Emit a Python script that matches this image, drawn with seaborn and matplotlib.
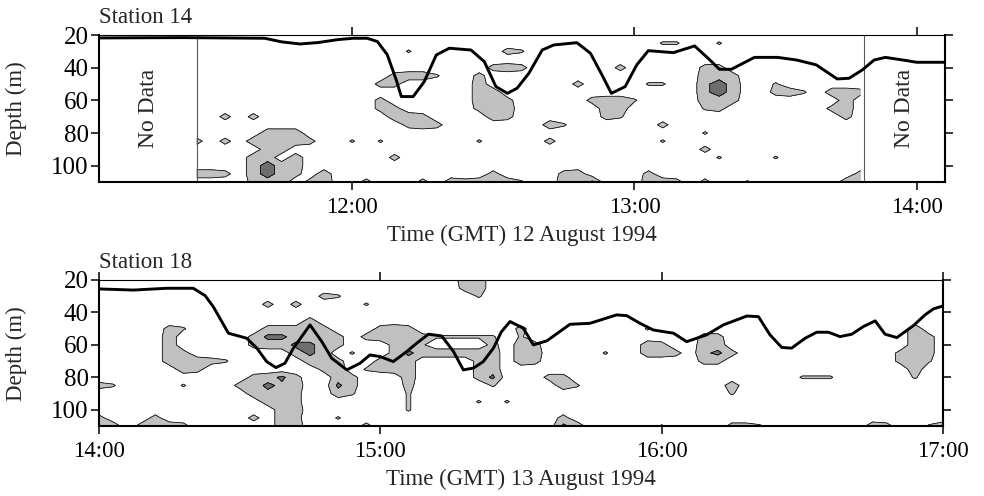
import numpy as np
import matplotlib
matplotlib.use("Agg")
import matplotlib.pyplot as plt
import seaborn as sns

sns.set_theme(style="ticks")
plt.rcParams["font.family"] = ["Liberation Serif", "DejaVu Serif"]

# ---------------- data ----------------
# interface depth line, Station 14 (time in decimal hours GMT, depth m)
s14_time = [11.103, 11.40, 11.69, 11.75, 11.816, 11.88, 11.95, 12.004, 12.053, 12.089,
            12.124, 12.155, 12.174, 12.216, 12.255, 12.298, 12.344, 12.421, 12.468, 12.509,
            12.550, 12.584, 12.626, 12.673, 12.714, 12.796, 12.844, 12.885, 12.918, 12.967,
            13.008, 13.049, 13.138, 13.213, 13.261, 13.301, 13.343, 13.425, 13.507, 13.574,
            13.644, 13.718, 13.760, 13.807, 13.849, 13.889, 13.965, 13.999, 14.10]
s14_depth = [21.8, 21.6, 22.0, 24.2, 25.5, 24.6, 22.8, 22.0, 22.0, 24.0,
             32.0, 47.0, 57.7, 57.7, 48.6, 32.2, 28.1, 29.2, 36.3, 51.6,
             55.7, 52.6, 43.4, 29.2, 26.1, 24.7, 31.2, 44.5, 55.7, 51.6,
             38.3, 29.6, 30.8, 26.7, 34.3, 41.0, 41.0, 33.7, 33.7, 35.3,
             38.3, 46.9, 46.5, 41.4, 35.3, 33.7, 35.7, 36.7, 36.7]

# interface depth line, Station 18
s18_time = [14.000, 14.122, 14.241, 14.335, 14.377, 14.406, 14.460, 14.525, 14.561, 14.596,
            14.629, 14.661, 14.691, 14.750, 14.792, 14.827, 14.881, 14.928, 14.963, 14.999,
            15.046, 15.094, 15.129, 15.171, 15.218, 15.260, 15.295, 15.331, 15.366, 15.402,
            15.430, 15.461, 15.508, 15.544, 15.592, 15.674, 15.745, 15.840, 15.876, 15.923,
            15.970, 16.042, 16.089, 16.160, 16.219, 16.303, 16.344, 16.385, 16.427, 16.462,
            16.510, 16.551, 16.593, 16.634, 16.676, 16.717, 16.759, 16.794, 16.836, 16.895,
            16.936, 16.966, 17.000]
s18_depth = [25.5, 26.2, 25.1, 25.1, 29.6, 36.4, 52.8, 55.9, 62.0, 70.3,
             74.0, 71.3, 62.0, 47.7, 58.0, 68.2, 75.4, 71.3, 66.2, 67.2,
             70.3, 64.1, 59.0, 53.4, 54.5, 64.1, 75.4, 74.3, 70.3, 62.0,
             52.0, 45.6, 49.7, 60.0, 57.5, 47.3, 46.7, 41.5, 42.0, 46.7,
             50.8, 52.8, 58.0, 53.8, 47.7, 42.2, 42.6, 53.8, 61.6, 62.0,
             55.9, 52.2, 52.2, 54.9, 53.4, 48.7, 45.2, 53.4, 55.5, 48.1,
             41.5, 37.8, 36.0]

# gridded field intensity (0-9), rows = depth bins, columns = 3-minute time bins
grid_depths = [20, 25, 30, 35, 40, 45, 50, 55, 60, 65, 70, 75, 80, 85, 90, 95, 100, 105, 110]
s14_grid_start = 11 + 27 / 60   # first column 11:27
s18_grid_start = 14.0           # first column 14:00
grid_step = 3 / 60              # 3 minutes

s14_grid = [
    ".......... .......... .......... .......... ........",
    ".......... .......... .......... ...33..3.. ........",
    ".......... .....3.... ..43...... .......... ........",
    ".......... .......... .......... .......... ........",
    ".......... .......... .454...... 4.....44.. ........",
    ".......... ....4553.. 4......... ......554. ........",
    ".......... ...44..... 5......4.. ..33..695. .3......",
    ".......... .......... 55........ ......695. .453.554",
    ".......... ...4...... 554.....45 53....554. ......5.",
    ".......... ...44..... 455......5 5.....34.. .....45.",
    "..4.4..... ....554... .54......4 3......... ......4.",
    ".......... .....454.. .....53... ...4...... ........",
    ".....555.. .......... .......... ......3... ........",
    "4.4.55554. .3.3...... 3....4.... ...3...... ........",
    ".....55... .......... .......... ......4... ........",
    "....55.5.. ....4..... .......... .......3.. .3......",
    "....5955.. .......... .......... .......... ........",
    "554.5954.5 .......... .4....45.. ..4....... .......4",
    "....455.46 ..4...4.54 5553..558. ..554.4..3 ......55",
]

s18_grid = [
    ".......... .......... ......55.. .......... .......... .......... .",
    ".......... .......... ......45.. .......... .......... .......... .",
    ".......... ......43.. .......3.. .......... .......... .......... .",
    ".......... ..4.4....3 .......... .......... .......... .......... .",
    ".......... .......... .......... .......... .......... .......... .",
    ".......... .....4.... .......... .......... .......... .......... .",
    ".....43... ..44454... 454....... 4........3 .......... ........5. .",
    ".....5.... .4885554.4 555433333. 3......... ...44..... ........54 .",
    ".....5.... .4558854.. .453....4. 54.......5 4..55..... ........54 .",
    ".....54... ....585.3. .48555555. 55....3..5 54.684.... .......454 .",
    ".....55543 .....544.. 455....45. 54........ ...44..... .......453 .",
    "......54.. ......45.3 455....45. .......... .......... ........5. .",
    ".......... .4584..54. ..5....48. ..44...... .......... 333.....3. .",
    "43....3... 45865..84. ..4.....3. ...53..... .....5.... .......... .",
    ".......... .5654..53. ..3....... .......... .....3.... .......... .",
    ".......... ..554..... ..3....3.3 .......... .......... .......... .",
    ".......... ...55..... ..3....... .......... .......... .......... .",
    "4...4..... .4.54..3.. .......... ...4...... .......... .......... .",
    "55.4554... ...55....4 .......... ...85..... 3....443.. .....54..3 5",
]

s14_nodata = [(11.103, 11.4515), (13.8116, 14.10)]
s14_xlim = (11.103, 14.10)
s18_xlim = (14.0, 17.0)
s14_ticks = [12, 13, 14]
s14_ticklabels = ["12:00", "13:00", "14:00"]
s18_ticks = [14, 15, 16, 17]
s18_ticklabels = ["14:00", "15:00", "16:00", "17:00"]
depth_ticks = [20, 40, 60, 80, 100]
field_levels = [2.5, 7, 10]
field_colors = ["#c0c0c0", "#6e6e6e"]


def parse_grid(rows):
    return np.array([[0.0 if ch == "." else float(ch) for ch in r.replace(" ", "")]
                     for r in rows])


W, H = 984, 496
fig = plt.figure(figsize=(W / 100, H / 100), dpi=100)


def add_axes_px(l, t, r, b):
    return fig.add_axes([l / W, 1 - b / H, (r - l) / W, (b - t) / H])


ax1 = add_axes_px(99, 35, 945, 182)
ax2 = add_axes_px(99, 280, 943, 426)

FS = 16.5
FS_Y = 18

for ax, rows, start, tl, dl, xlim, ticks, labels in [
    (ax1, s14_grid, s14_grid_start, s14_time, s14_depth, s14_xlim, s14_ticks, s14_ticklabels),
    (ax2, s18_grid, s18_grid_start, s18_time, s18_depth, s18_xlim, s18_ticks, s18_ticklabels),
]:
    Z = parse_grid(rows)
    t = start + grid_step * np.arange(Z.shape[1])
    T, D = np.meshgrid(t, grid_depths)
    ax.contourf(T, D, Z, levels=field_levels, colors=field_colors, zorder=1)
    ax.contour(T, D, Z, levels=field_levels[:2], colors="black", linewidths=0.55, zorder=1.5)
    sns.lineplot(x=tl, y=dl, color="black", linewidth=2.1, ax=ax, sort=False,
                 estimator=None, zorder=3)
    ax.set_xlim(*xlim)
    ax.set_ylim(110, 20)
    ax.set_xticks(ticks)
    ax.set_xticklabels(labels)
    ax.set_yticks(depth_ticks)
    ax.set_xlabel("")
    ax.set_ylabel("")
    ax.tick_params(axis="both", direction="out", length=6, width=1.1,
                   top=True, right=True, labeltop=False, labelright=False, colors="black")
    ax.tick_params(axis="x", pad=5, labelsize=FS)
    ax.tick_params(axis="y", pad=1.5, labelsize=FS_Y)
    for s in ["left", "right", "bottom"]:
        ax.spines[s].set_linewidth(1.5)
        ax.spines[s].set_color("black")
    ax.spines["top"].set_linewidth(0.8)
    ax.spines["top"].set_color("black")
    ax.set_facecolor("white")

# No Data regions on Station 14
for (a, b) in s14_nodata:
    for xb in (a, b):
        if s14_xlim[0] < xb < s14_xlim[1]:
            ax1.axvline(xb, color="0.35", linewidth=0.8, zorder=2)
    ax1.text((a + b) / 2, 65, "No Data", rotation=90, ha="center", va="center",
             fontsize=17, zorder=4)

fig.text(99 / W, 1 - 23 / H, "Station 14", ha="left", va="baseline", fontsize=FS)
fig.text(99 / W, 1 - 268 / H, "Station 18", ha="left", va="baseline", fontsize=FS)
fig.text(522 / W, 1 - 241 / H, "Time (GMT) 12 August 1994", ha="center", va="baseline", fontsize=FS)
fig.text(521 / W, 1 - 485 / H, "Time (GMT) 13 August 1994", ha="center", va="baseline", fontsize=FS)
fig.text(16 / W, 1 - 109 / H, "Depth (m)", rotation=90, ha="center", va="center", fontsize=FS)
fig.text(16 / W, 1 - 354 / H, "Depth (m)", rotation=90, ha="center", va="center", fontsize=FS)

fig.savefig("out.png", dpi=100, facecolor="white")
